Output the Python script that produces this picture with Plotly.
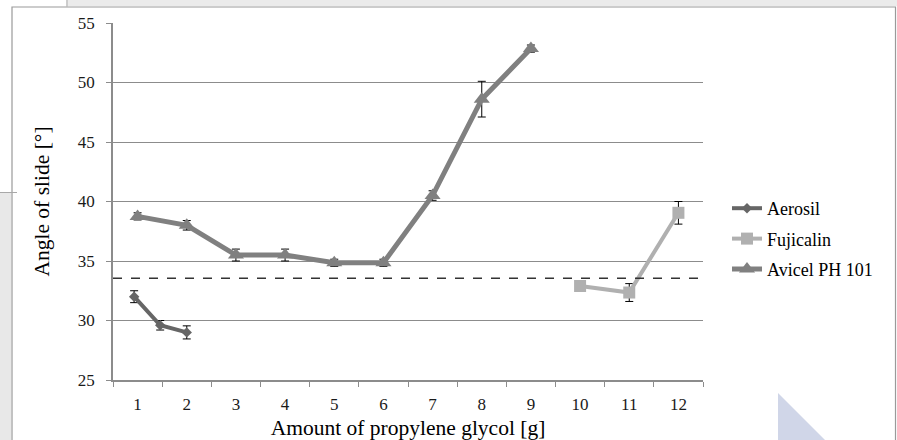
import plotly.graph_objects as go

# ---- data ----
aerosil_x = [0.93, 1.46, 2.0]
aerosil_y = [32.0, 29.6, 29.0]
aerosil_err = [0.5, 0.4, 0.55]

fujicalin_x = [10, 11, 12]
fujicalin_y = [32.9, 32.35, 39.05]
fujicalin_err = [0.0, 0.75, 0.95]

avicel_x = [1, 2, 3, 4, 5, 6, 7, 8, 9]
avicel_y = [38.75, 38.0, 35.5, 35.5, 34.85, 34.85, 40.5, 48.6, 52.85]
avicel_err = [0.3, 0.4, 0.5, 0.5, 0.3, 0.3, 0.4, 1.5, 0.3]

x_ticks = list(range(1, 13))
x_labels = [str(v) for v in x_ticks]
reference_level = 33.55

# ---- layout geometry (pixels) ----
W, H = 897, 440
L, R, T, B = 113, 703, 23, 380
PW, PH = R - L, B - T


def px(x):
    return (x - L) / PW


def py(y):
    return (B - y) / PH


FONT = "Liberation Serif"

fig = go.Figure()

fig.add_trace(go.Scatter(
    x=aerosil_x, y=aerosil_y, name="Aerosil", mode="lines+markers",
    line=dict(color="#666666", width=4),
    marker=dict(symbol="diamond", size=8, color="#666666"),
    error_y=dict(type="data", array=aerosil_err, color="#000000", thickness=1, width=4),
    legendgroup="a",
))
fig.add_trace(go.Scatter(
    x=fujicalin_x, y=fujicalin_y, name="Fujicalin", mode="lines+markers",
    line=dict(color="#b0b0b0", width=4),
    marker=dict(symbol="square", size=12, color="#b0b0b0"),
    error_y=dict(type="data", array=fujicalin_err, color="#000000", thickness=1, width=4),
    legendgroup="b",
))
fig.add_trace(go.Scatter(
    x=avicel_x, y=avicel_y, name="Avicel PH 101", mode="lines+markers",
    line=dict(color="#808080", width=5),
    marker=dict(symbol="triangle-up", size=14, color="#808080"),
    error_y=dict(type="data", array=avicel_err, color="#000000", thickness=1, width=4),
    legendgroup="c",
))

shapes = [
    # reference dashed line
    dict(type="line", xref="paper", yref="y", x0=0, x1=1, y0=reference_level, y1=reference_level,
         line=dict(color="#333333", width=1.3, dash="dash"), layer="above"),
    # outer frame
    dict(type="rect", xref="paper", yref="paper", x0=px(12), x1=px(895.5), y0=py(7), y1=py(445),
         line=dict(color="#9a9a9a", width=1.2), layer="below"),
    # top strip
    dict(type="rect", xref="paper", yref="paper", x0=px(68), x1=px(897), y0=py(0), y1=py(6),
         line=dict(width=0), fillcolor="#ebebeb", layer="below"),
    dict(type="line", xref="paper", yref="paper", x0=px(67), x1=px(67), y0=py(0), y1=py(6.5),
         line=dict(color="#9a9a9a", width=1)),
    # left strip
    dict(type="rect", xref="paper", yref="paper", x0=px(0), x1=px(11), y0=py(193), y1=py(440),
         line=dict(width=0), fillcolor="#e8e8e8", layer="below"),
    dict(type="line", xref="paper", yref="paper", x0=px(0), x1=px(17), y0=py(192.5), y1=py(192.5),
         line=dict(color="#a8a8a8", width=1)),
    # decorative triangle
    dict(type="path", xref="paper", yref="paper",
         path=f"M {px(778)},{py(393)} L {px(778)},{py(440)} L {px(825)},{py(440)} Z",
         line=dict(width=0), fillcolor="#d0d6e8", layer="below"),
]

fig.update_layout(
    width=W, height=H,
    margin=dict(l=L, r=W - R, t=T, b=H - B, autoexpand=False),
    paper_bgcolor="white", plot_bgcolor="white",
    font=dict(family=FONT, color="#1a1a1a", size=17),
    showlegend=True,
    legend=dict(x=px(727), y=py(190), xanchor="left", yanchor="top",
                font=dict(family=FONT, size=18, color="#000000"),
                traceorder="grouped", tracegroupgap=4,
                bgcolor="rgba(0,0,0,0)", itemwidth=30),
    shapes=shapes,
    xaxis=dict(
        range=[0.5, 12.5], tickmode="array", tickvals=x_ticks, ticktext=x_labels,
        ticks="", showgrid=False, zeroline=False, automargin=False,
        showline=True, linecolor="#8c8c8c", linewidth=1.5,
        tickfont=dict(family=FONT, size=17, color="#1a1a1a"),
        ticklabelstandoff=8,
        minor=dict(tickmode="linear", tick0=0.5, dtick=1, ticks="outside", ticklen=5,
                   tickcolor="#8c8c8c", tickwidth=1, showgrid=False),
        title=dict(text="Amount of propylene glycol [g]", font=dict(family=FONT, size=21.5, color="#000000"),
                   standoff=10),
    ),
    yaxis=dict(
        range=[25, 55], dtick=5, ticks="outside", ticklen=5, tickcolor="#8c8c8c",
        showgrid=True, gridcolor="#8c8c8c", gridwidth=1, zeroline=False, automargin=False,
        showline=True, linecolor="#8c8c8c", linewidth=1.5,
        tickfont=dict(family=FONT, size=17, color="#1a1a1a"),
        ticklabelstandoff=8,
        title=dict(text="Angle of slide [°]", font=dict(family=FONT, size=21.5, color="#000000"),
                   standoff=22),
    ),
)

fig.write_html("out.html", post_script="document.body.style.margin='0';",
               config={"displayModeBar": False})
